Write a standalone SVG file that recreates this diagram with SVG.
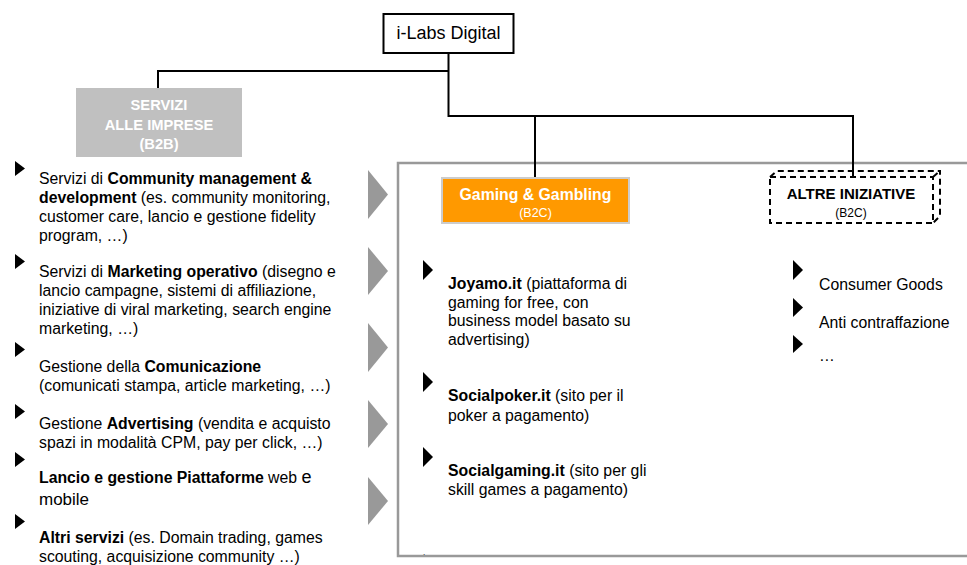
<svg xmlns="http://www.w3.org/2000/svg" width="967" height="565" viewBox="0 0 967 565">
<defs>
<style>
text{font-family:"Liberation Sans",Arial,sans-serif;fill:#000}
.t{font-size:15.8px}
.b{font-weight:bold}
.w{fill:#fff}
.c{text-anchor:middle}
.con{fill:none;stroke:#000;stroke-width:2}
.bul{fill:#000}
.gbul{fill:#999}
.dash{fill:none;stroke:#000;stroke-width:2;stroke-dasharray:6 4}
</style>
</defs>
<rect width="967" height="565" fill="#fff"/>

<g id="frame-b2c">
<rect x="398" y="163" width="580" height="393" fill="none" stroke="#999" stroke-width="2.5"/>
</g>

<g id="connectors">
<path class="con" d="M448.5,53 V116 H853 V176"/>
<path class="con" d="M448.5,71 H158 V88"/>
<path class="con" d="M535,116 V178"/>
</g>

<g id="node-ilabs">
<rect x="383.5" y="14" width="130" height="39" fill="#fff" stroke="#000" stroke-width="2"/>
<text class="c" x="448.5" y="39" font-size="18">i-Labs Digital</text>
</g>

<g id="node-servizi">
<rect x="76" y="88" width="166" height="69" fill="#c0c0c0"/>
<text class="c b w" x="159" y="110" font-size="14.7">SERVIZI</text>
<text class="c b w" x="159" y="130" font-size="14.7">ALLE IMPRESE</text>
<text class="c b w" x="159" y="149" font-size="14.7">(B2B)</text>
</g>

<g id="node-gaming">
<rect x="442" y="178" width="187" height="45" fill="#FF9900" stroke="#ccc" stroke-width="2"/>
<text class="c b w" x="535.5" y="200" font-size="15.8">Gaming &amp; Gambling</text>
<text class="c w" x="535.5" y="217" font-size="12.5">(B2C)</text>
</g>

<g id="node-altre">
<rect x="770" y="177" width="163" height="46" fill="#fff" class="dash"/>
<path class="dash" d="M770,177 L777,171 H940 V216 L933,223 M933,177 L940,171"/>
<text class="c b" x="851" y="199" font-size="15">ALTRE INIZIATIVE</text>
<text class="c" x="851" y="217" font-size="12">(B2C)</text>
</g>

<g id="arrows-gray" class="gbul">
<polygon points="368,170 388,194.5 368,219"/>
<polygon points="368,247 388,271 368,295"/>
<polygon points="368,323 388,347.5 368,372"/>
<polygon points="368,400 388,424 368,448"/>
<polygon points="368,477 388,501 368,525"/>
</g>

<g id="list-b2b">
<g id="item-community">
<polygon class="bul" points="15,161 25,168.5 15,176"/>
<text class="t" x="39" y="184">Servizi di <tspan class="b">Community management &amp;</tspan></text>
<text class="t" x="39" y="203"><tspan class="b">development</tspan> (es. community monitoring,</text>
<text class="t" x="39" y="222">customer care, lancio e gestione fidelity</text>
<text class="t" x="39" y="241">program, …)</text>
</g>
<g id="item-marketing">
<polygon class="bul" points="15,254 25,261.5 15,269"/>
<text class="t" x="39" y="277">Servizi di <tspan class="b">Marketing operativo</tspan> (disegno e</text>
<text class="t" x="39" y="296">lancio campagne, sistemi di affiliazione,</text>
<text class="t" x="39" y="315">iniziative di viral marketing, search engine</text>
<text class="t" x="39" y="334">marketing, …)</text>
</g>
<g id="item-comunicazione">
<polygon class="bul" points="15,342 25,349.5 15,357"/>
<text class="t" x="39" y="372">Gestione della <tspan class="b">Comunicazione</tspan></text>
<text class="t" x="39" y="391">(comunicati stampa, article marketing, …)</text>
</g>
<g id="item-advertising">
<polygon class="bul" points="15,404 25,411.5 15,419"/>
<text class="t" x="39" y="429">Gestione <tspan class="b">Advertising</tspan> (vendita e acquisto</text>
<text class="t" x="39" y="448">spazi in modalità CPM,  pay per click, …)</text>
</g>
<g id="item-piattaforme">
<polygon class="bul" points="15,452 25,459.5 15,467"/>
<text class="t" x="39" y="483"><tspan class="b">Lancio e gestione Piattaforme</tspan> web <tspan font-size="18">e</tspan></text>
<text x="39" y="505" font-size="17">mobile</text>
</g>
<g id="item-altri">
<polygon class="bul" points="15,514 25,521.5 15,529"/>
<text class="t" x="39" y="543"><tspan class="b">Altri servizi</tspan> (es. Domain trading, games</text>
<text class="t" x="39" y="562">scouting, acquisizione community …)</text>
</g>
</g>

<g id="list-gaming">
<g id="item-joyamo">
<polygon class="bul" points="423,260 433,270 423,280"/>
<text class="t" x="448" y="289"><tspan class="b">Joyamo.it</tspan> (piattaforma di</text>
<text class="t" x="448" y="308">gaming for free, con</text>
<text class="t" x="448" y="326">business model basato su</text>
<text class="t" x="448" y="345">advertising)</text>
</g>
<g id="item-socialpoker">
<polygon class="bul" points="423,372 433,382 423,392"/>
<text class="t" x="448" y="401"><tspan class="b">Socialpoker.it</tspan> (sito per il</text>
<text class="t" x="448" y="421">poker a pagamento)</text>
</g>
<g id="item-socialgaming">
<polygon class="bul" points="423,447 433,457 423,467"/>
<text class="t" x="448" y="476"><tspan class="b">Socialgaming.it</tspan> (sito per gli</text>
<text class="t" x="448" y="495">skill games a pagamento)</text>
</g>
<text x="423" y="555" font-size="8" fill="#666">.</text>
</g>

<g id="list-altre">
<g id="item-consumer">
<polygon class="bul" points="793,260 803,270 793,280"/>
<text class="t" x="819" y="290">Consumer Goods</text>
</g>
<g id="item-anti">
<polygon class="bul" points="793,298 803,307.5 793,317"/>
<text class="t" x="819" y="328">Anti contraffazione</text>
</g>
<g id="item-more">
<polygon class="bul" points="793,335 803,344 793,353"/>
<text class="t" x="819" y="361">…</text>
</g>
</g>
</svg>
